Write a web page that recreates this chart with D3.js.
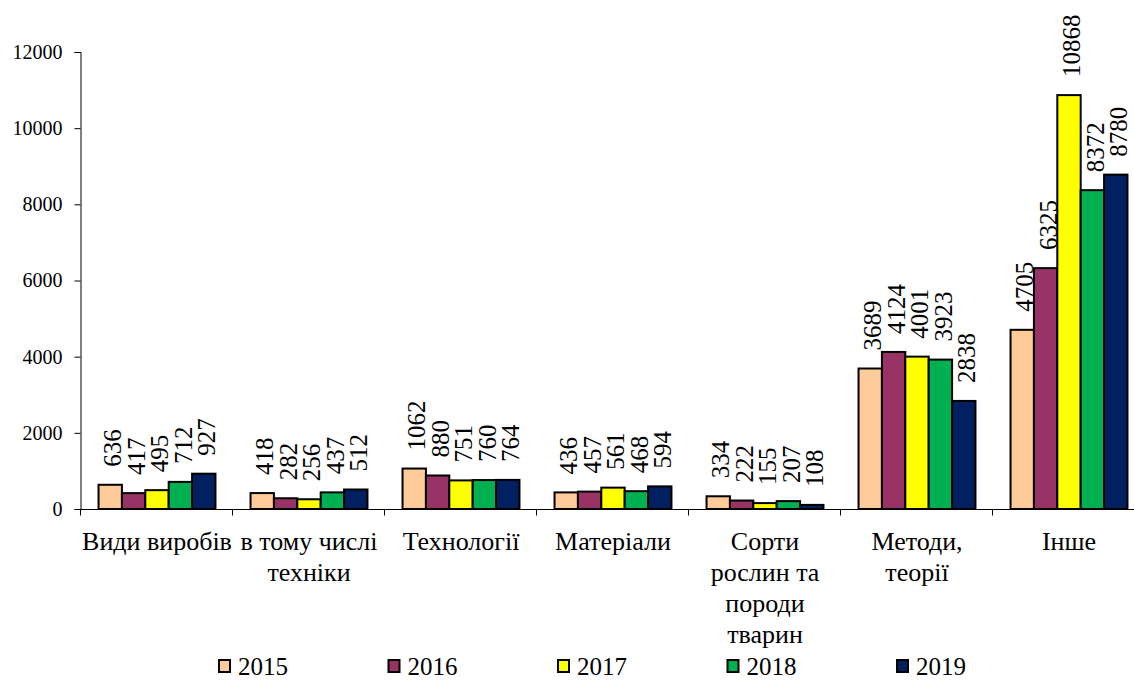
<!DOCTYPE html>
<html>
<head>
<meta charset="utf-8">
<script src="https://cdn.jsdelivr.net/npm/d3@7"></script>
<style>
  body { margin: 0; background: #fff; }
</style>
</head>
<body>
<svg width="1134" height="681"></svg>
<script>
var categories = ["Види виробів", "в тому числі\nтехніки", "Технології", "Матеріали",
  "Сорти\nрослин та\nпороди\nтварин", "Методи,\nтеорії", "Інше"];
var years = ["2015", "2016", "2017", "2018", "2019"];
var v2015 = [636, 418, 1062, 436, 334, 3689, 4705];
var v2016 = [417, 282, 880, 457, 222, 4124, 6325];
var v2017 = [495, 256, 751, 561, 155, 4001, 10868];
var v2018 = [712, 437, 760, 468, 207, 3923, 8372];
var v2019 = [927, 512, 764, 594, 108, 2838, 8780];
var yTicks = [0, 2000, 4000, 6000, 8000, 10000, 12000];
var colors = ["#ffcc99", "#993366", "#ffff00", "#00b050", "#002060"];

var serif = "'Liberation Serif'";

var series = [v2015, v2016, v2017, v2018, v2019];
var data = categories.map(function(c, i) {
  return { name: c, values: years.map(function(y, j) { return { year: y, value: series[j][i] }; }) };
});

var svg = d3.select("svg"),
    margin = {top: 52, left: 81, bottom: 172},
    height = 681 - margin.top - margin.bottom;

var x0 = d3.scaleBand()
    .domain(categories)
    .range([margin.left, margin.left + 152 * 7]);

var x1 = d3.scaleBand()
    .domain(years)
    .range([0, x0.bandwidth()])
    .paddingOuter(0.75);

var y = d3.scaleLinear()
    .domain([0, 12000])
    .range([margin.top + height, margin.top]);

var z = d3.scaleOrdinal().domain(years).range(colors);

// y axis
var yAxis = svg.append("g")
    .attr("transform", "translate(" + (margin.left - 0.5) + ",0)")
    .call(d3.axisLeft(y).tickValues(yTicks).tickSize(6).tickPadding(12).tickFormat(d3.format("d")))
    .attr("font-family", null)
    .attr("font-size", null);
yAxis.selectAll("text")
    .style("font-family", serif)
    .style("font-size", "20px")
    .attr("fill", "#000");
yAxis.select(".domain").attr("stroke", "#000");

// bars
var groups = svg.append("g")
  .selectAll("g")
  .data(data)
  .enter().append("g")
    .attr("transform", function(d) { return "translate(" + x0(d.name) + ",0)"; });

groups.selectAll("rect")
  .data(function(d) { return d.values; })
  .enter().append("rect")
    .attr("x", function(d) { return x1(d.year); })
    .attr("y", function(d) { return y(d.value); })
    .attr("width", x1.bandwidth())
    .attr("height", function(d) { return y(0) - y(d.value); })
    .attr("fill", function(d) { return z(d.year); })
    .attr("stroke", "#000")
    .attr("stroke-width", 2);

groups.selectAll("text.val")
  .data(function(d) { return d.values; })
  .enter().append("text")
    .attr("class", "val")
    .attr("transform", function(d) {
      return "translate(" + (x1(d.year) + x1.bandwidth() / 2) + "," + (y(d.value) - 18) + ") rotate(-90)";
    })
    .attr("dy", "0.45em")
    .attr("text-anchor", "start")
    .style("font-family", serif)
    .style("font-size", "25px")
    .text(function(d) { return d.value; });

// x axis
var xAxis = svg.append("g")
    .attr("transform", "translate(0," + (y(0) + 0.5) + ")");
xAxis.append("line")
    .attr("x1", margin.left - 0.5).attr("x2", 1134)
    .attr("stroke", "#000");
xAxis.selectAll("line.tick")
  .data(categories.concat([null]))
  .enter().append("line")
    .attr("class", "tick")
    .attr("x1", function(d, i) { return margin.left - 0.5 + i * x0.step(); })
    .attr("x2", function(d, i) { return margin.left - 0.5 + i * x0.step(); })
    .attr("y1", 0).attr("y2", 6)
    .attr("stroke", "#000");

var labels = xAxis.selectAll("text.cat")
  .data(categories)
  .enter().append("text")
    .attr("class", "cat")
    .attr("text-anchor", "middle")
    .attr("x", function(d) { return x0(d) + x0.bandwidth() / 2; })
    .attr("y", 40)
    .style("font-family", serif)
    .style("font-size", "26px");
labels.selectAll("tspan")
  .data(function(d) { return d.split("\n").map(function(l) { return { line: l, cx: x0(d) + x0.bandwidth() / 2 }; }); })
  .enter().append("tspan")
    .attr("x", function(d) { return d.cx; })
    .attr("dy", function(d, i) { return i === 0 ? 0 : 31; })
    .text(function(d) { return d.line; });

// legend
var legend = svg.append("g")
  .selectAll("g")
  .data(years)
  .enter().append("g")
    .attr("transform", function(d, i) { return "translate(" + (219 + i * 169.5) + ",660)"; });

legend.append("rect")
    .attr("width", 11)
    .attr("height", 12)
    .attr("fill", z)
    .attr("stroke", "#000")
    .attr("stroke-width", 2);

legend.append("text")
    .attr("x", 19)
    .attr("y", 15)
    .style("font-family", serif)
    .style("font-size", "25px")
    .text(function(d) { return d; });
</script>
</body>
</html>
